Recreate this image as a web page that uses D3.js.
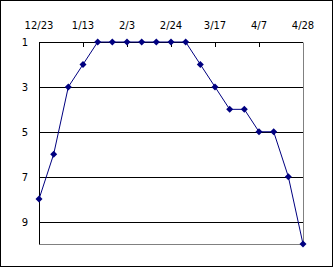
<!DOCTYPE html>
<html>
<head>
<meta charset="utf-8">
<script src="https://cdn.jsdelivr.net/npm/d3@7"></script>
<style>
body { margin: 0; background: #fff; }
text { font-family: "DejaVu Sans", sans-serif; font-size: 10px; fill: #000; }
</style>
</head>
<body>
<svg id="chart" width="334" height="268"></svg>
<script>
// weekly ranks, 12/23 .. 4/28
var weeks = ["12/23","12/30","1/6","1/13","1/20","1/27","2/3","2/10","2/17","2/24",
             "3/3","3/10","3/17","3/24","3/31","4/7","4/14","4/21","4/28"];
var ranks = [8, 6, 3, 2, 1, 1, 1, 1, 1, 1, 1, 2, 3, 4, 4, 5, 5, 7, 10];
var tickWeeks = ["12/23","1/13","2/3","2/24","3/17","4/7","4/28"];
var rankTicks = [1, 3, 5, 7, 9];

var svg = d3.select("#chart");

var margin = {left: 39, top: 42, right: 303, bottom: 244};

var x = d3.scalePoint()
    .domain(weeks)
    .range([margin.left, margin.right]);

var y = d3.scaleLinear()
    .domain([1, 10])
    .range([margin.top, margin.bottom]);

// outer frame
svg.append("rect")
    .attr("x", 0.5).attr("y", 0.5)
    .attr("width", 332).attr("height", 266)
    .attr("fill", "#fff")
    .attr("stroke", "#000");

// plot border (grey right + bottom)
svg.append("path")
    .attr("d", "M" + margin.right + "," + margin.top + "V" + margin.bottom + "H" + margin.left)
    .attr("transform", "translate(0.5,0.5)")
    .attr("fill", "none")
    .attr("stroke", "#808080");

// gridlines
svg.append("g")
    .selectAll("line")
    .data(rankTicks)
    .enter().append("line")
    .attr("x1", margin.left)
    .attr("x2", margin.right)
    .attr("y1", function(d) { return Math.round(y(d)) + 0.5; })
    .attr("y2", function(d) { return Math.round(y(d)) + 0.5; })
    .attr("stroke", "#000");

// left axis line
svg.append("line")
    .attr("x1", margin.left + 0.5).attr("x2", margin.left + 0.5)
    .attr("y1", margin.top).attr("y2", margin.bottom + 0.5)
    .attr("stroke", "#000");

// x ticks (inside, on top)
svg.append("g")
    .selectAll("line")
    .data(tickWeeks.slice(1, -1))
    .enter().append("line")
    .attr("x1", function(d) { return Math.round(x(d)) + 0.5; })
    .attr("x2", function(d) { return Math.round(x(d)) + 0.5; })
    .attr("y1", margin.top)
    .attr("y2", margin.top + 5)
    .attr("stroke", "#000");

// x labels
svg.append("g")
    .selectAll("text")
    .data(tickWeeks)
    .enter().append("text")
    .attr("x", function(d) { return x(d); })
    .attr("y", 29)
    .attr("text-anchor", "middle")
    .text(function(d) { return d; });

// y labels
svg.append("g")
    .selectAll("text")
    .data(rankTicks)
    .enter().append("text")
    .attr("x", 28)
    .attr("y", function(d) { return y(d) + 4; })
    .attr("text-anchor", "end")
    .text(function(d) { return d; });

var line = d3.line()
    .x(function(d, i) { return x(weeks[i]); })
    .y(function(d) { return y(d); });

svg.append("path")
    .datum(ranks)
    .attr("d", line)
    .attr("fill", "none")
    .attr("stroke", "#000080")
    .attr("stroke-width", 1);

svg.append("g")
    .selectAll("path")
    .data(ranks)
    .enter().append("path")
    .attr("d", "M0,-3.5L3.5,0L0,3.5L-3.5,0Z")
    .attr("transform", function(d, i) { return "translate(" + x(weeks[i]) + "," + y(d) + ")"; })
    .attr("fill", "#000080");
</script>
</body>
</html>
